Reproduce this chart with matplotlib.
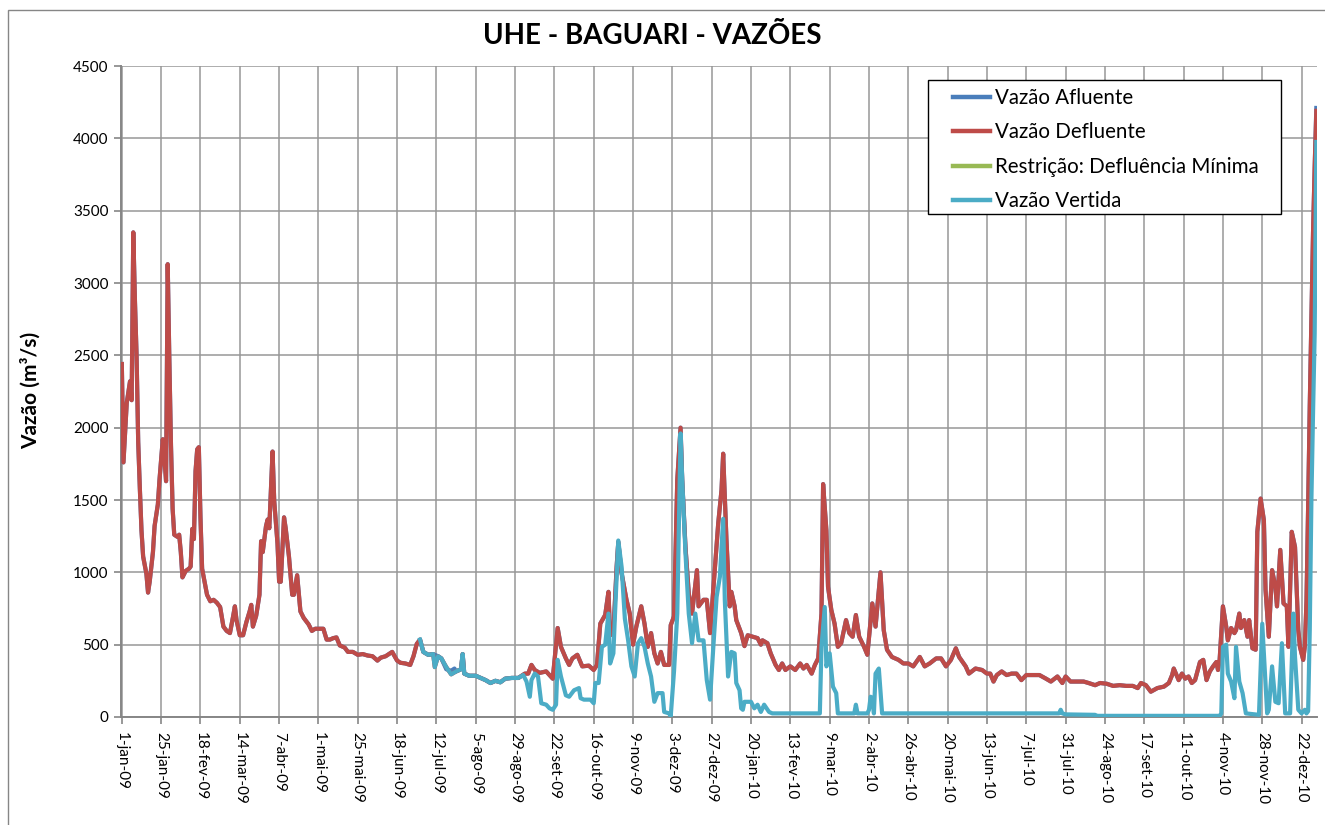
import numpy as np
import pandas as pd
import matplotlib
matplotlib.use("Agg")
import matplotlib.pyplot as plt
from matplotlib.patches import Rectangle

plt.rcParams['font.family'] = ['Lato', 'DejaVu Sans']

# ---------------- data (day offsets from 1-jan-2009) ----------------
start_date = np.datetime64('2009-01-01')

defl_days = [0, 1, 3, 5, 6, 7, 8, 9, 10, 11, 12, 13, 15, 16, 17, 19, 20, 22, 23, 25, 26, 27, 28, 29, 30, 31, 32, 34, 35, 36,
             37, 39, 41, 42, 43, 44, 45, 46, 47, 48, 49, 51, 52, 54, 56, 58, 60, 62, 64, 66, 68, 69, 70, 72, 74, 76, 78, 79, 80, 82,
             84, 85, 86, 88, 89, 90, 92, 93, 95, 96, 97, 99, 100, 102, 104, 105, 107, 109, 111, 114, 116, 118, 120, 123, 125, 127, 129, 131, 133, 136,
             138, 141, 144, 147, 150, 153, 156, 158, 161, 163, 165, 168, 170, 173, 176, 178, 180, 182, 184, 187, 190, 191, 193, 195, 198, 201,
             204, 207, 208, 209, 212, 216, 219, 222, 225, 228, 231, 234, 238, 242, 246, 248, 250, 252, 255, 259, 261, 263, 266, 268,
             271, 273, 275, 278, 281, 285, 288, 290, 292, 295, 297, 298, 300, 302, 303, 305, 308, 310, 312, 314, 317, 319, 321, 323,
             325, 327, 329, 331, 334, 335, 337, 339, 341, 342, 344, 346, 348, 351, 352, 355, 357, 359, 362, 364, 366, 367, 369, 371,
             372, 374, 375, 378, 380, 382, 385, 388, 390, 391, 394, 396, 399, 401, 403, 405, 408, 411, 414, 416, 418, 421, 423, 425,
             427, 428, 430, 431, 433, 435, 437, 439, 442, 444, 446, 448, 450, 453, 455, 458, 460, 463, 465, 467, 470, 474, 477, 480,
             483, 487, 490, 493, 497, 500, 503, 506, 509, 511, 515, 517, 521, 525, 528, 530, 532, 534, 537, 540, 543, 546, 549, 552,
             556, 560, 564, 567, 571, 574, 576, 579, 583, 587, 590, 594, 597, 601, 605, 609, 613, 617, 620, 622, 625, 628, 632, 636,
             639, 641, 642, 645, 647, 649, 651, 653, 655, 658, 660, 662, 664, 666, 668, 669, 670, 672, 674, 675, 677, 679, 680, 682,
             683, 685, 687, 688, 690, 692, 693, 695, 697, 698, 700, 702, 704, 705, 707, 709, 711, 712, 714, 716, 718, 719, 721, 722,
             723, 724, 725, 726, 727, 728, 729]
defl_vals = [2440, 1760, 2170, 2320, 2190, 3350, 2880, 2500, 1900, 1580, 1290, 1110, 990, 860, 935, 1140, 1320, 1470, 1640, 1920, 1790, 1630, 3130, 2470, 1880, 1440, 1260, 1245, 1260, 1140,
             965, 1010, 1025, 1040, 1300, 1230, 1700, 1850, 1865, 1380, 1025, 905, 845, 800, 810, 790, 760, 625, 595, 580, 700, 765, 670, 565, 565, 655, 730, 775, 625, 700,
             845, 1215, 1140, 1320, 1365, 1305, 1835, 1495, 1200, 935, 935, 1380, 1305, 1110, 845, 845, 980, 730, 685, 640, 595, 610, 610, 610, 535, 535, 545, 550, 495, 480,
             450, 450, 430, 435, 425, 420, 390, 410, 420, 435, 450, 390, 375, 370, 360, 420, 505, 535, 450, 430, 435, 345, 420, 405, 345, 295,
             315, 330, 435, 300, 285, 285, 270, 255, 235, 250, 240, 265, 270, 270, 300, 300, 360, 325, 305, 315, 290, 265, 615, 485,
             405, 360, 405, 430, 350, 355, 325, 360, 645, 705, 865, 565, 580, 1040, 1210, 995, 810, 715, 500, 625, 765, 645, 485, 580,
             440, 370, 450, 360, 360, 635, 695, 1640, 2000, 1640, 1175, 855, 715, 1015, 765, 810, 810, 580, 1040, 1340, 1570, 1820, 1225, 765,
             865, 765, 670, 580, 490, 565, 555, 545, 500, 530, 510, 440, 360, 325, 370, 325, 350, 325, 370, 335, 360, 300, 360, 405,
             715, 1610, 1290, 900, 740, 645, 485, 510, 670, 580, 555, 705, 555, 485, 430, 785, 625, 1000, 600, 465, 415, 395, 370, 370,
             350, 415, 350, 370, 405, 405, 350, 395, 475, 415, 350, 300, 335, 325, 300, 300, 245, 290, 315, 290, 300, 300, 255, 290,
             290, 290, 265, 245, 280, 235, 280, 245, 245, 245, 235, 220, 235, 230, 215, 220, 215, 215, 200, 235, 220, 175, 200, 210,
             235, 290, 335, 255, 300, 265, 280, 235, 255, 380, 395, 255, 315, 350, 380, 325, 395, 765, 625, 530, 615, 580, 600, 715,
             615, 670, 555, 670, 475, 465, 1280, 1510, 1360, 880, 555, 1015, 900, 765, 1155, 785, 765, 485, 1280, 1175, 600, 485, 395, 490,
             800, 1450, 2150, 2750, 3350, 3800, 4190]

# Afluente coincides with Defluente except on these days
afl_diff_days = [191, 198, 201, 203, 729]
afl_diff_vals = [430, 330, 320, 335, 4210]

vert_days = [182, 184, 187, 190, 191, 193, 195, 198, 201, 204, 207, 208, 209, 212, 216, 219, 222, 225, 228, 231, 234, 238, 242, 245,
             247, 249, 250, 252, 254, 256, 259, 261, 263, 265, 266, 268, 271, 273, 276, 279, 280, 282, 286, 288, 289, 291, 293, 295,
             297, 298, 300, 301, 303, 305, 307, 309, 311, 313, 315, 317, 319, 321, 323, 325, 327, 330, 331, 334, 335, 337, 339, 341,
             342, 344, 346, 348, 350, 352, 355, 357, 359, 361, 363, 365, 367, 368, 370, 372, 374, 375, 377, 378, 379, 380, 382, 384,
             386, 388, 390, 392, 395, 397, 426, 427, 429, 430, 432, 434, 436, 437, 447, 448, 449, 455, 456, 457, 458, 459, 460, 462,
             464, 572, 573, 574, 576, 594, 595, 670, 671, 672, 674, 675, 677, 679, 680, 682, 684, 686, 694, 696, 697, 699, 700, 702,
             704, 706, 708, 710, 713, 715, 716, 718, 720, 722, 723, 724, 725, 726, 727, 728, 729]
vert_vals = [535, 450, 430, 435, 345, 420, 405, 345, 295, 315, 330, 435, 300, 285, 285, 270, 255, 235, 250, 240, 265, 270, 270, 290,
             245, 140, 255, 300, 280, 95, 85, 60, 50, 85, 395, 280, 150, 140, 185, 200, 130, 120, 120, 95, 235, 235, 485, 500,
             715, 370, 440, 715, 1220, 1040, 680, 530, 350, 280, 510, 545, 485, 370, 280, 105, 165, 165, 35, 25, 5, 315, 715, 1960,
             1640, 1130, 715, 510, 715, 530, 530, 255, 120, 485, 830, 970, 1370, 810, 280, 450, 440, 235, 185, 60, 50, 105, 105, 105,
             60, 85, 35, 85, 35, 25, 25, 485, 760, 350, 440, 210, 165, 25, 25, 85, 25, 25, 50, 140, 130, 25, 300, 335,
             25, 25, 50, 25, 18, 15, 8, 8, 25, 485, 500, 300, 245, 130, 485, 245, 165, 25, 15, 645, 440, 25, 50, 350,
             105, 95, 510, 25, 25, 715, 415, 50, 25, 50, 25, 40, 600, 1500, 2100, 2650, 3975]

restr_days = []
restr_vals = []

series_names = ['Vazão Afluente', 'Vazão Defluente', 'Restrição: Defluência Mínima', 'Vazão Vertida']
series_colors = ['#4A7EBB', '#BE4B48', '#98B954', '#4BACC6']

tick_labels = ['1-jan-09', '25-jan-09', '18-fev-09', '14-mar-09', '7-abr-09', '1-mai-09', '25-mai-09', '18-jun-09',
               '12-jul-09', '5-ago-09', '29-ago-09', '22-set-09', '16-out-09', '9-nov-09', '3-dez-09', '27-dez-09',
               '20-jan-10', '13-fev-10', '9-mar-10', '2-abr-10', '26-abr-10', '20-mai-10', '13-jun-10', '7-jul-10',
               '31-jul-10', '24-ago-10', '17-set-10', '11-out-10', '4-nov-10', '28-nov-10', '22-dez-10']
y_ticks = list(range(0, 4501, 500))

title = 'UHE - BAGUARI - VAZÕES'
ylabel = 'Vazão (m³/s)'

# ---------------- build series ----------------
def to_dates(days):
    return start_date + np.array(days, dtype='timedelta64[D]')

defl = pd.Series(defl_vals, index=defl_days, dtype=float)
afl = defl.copy()
for d, v in zip(afl_diff_days, afl_diff_vals):
    afl.loc[d] = v
afl = afl.sort_index()

months = {'jan': 1, 'fev': 2, 'mar': 3, 'abr': 4, 'mai': 5, 'jun': 6,
          'jul': 7, 'ago': 8, 'set': 9, 'out': 10, 'nov': 11, 'dez': 12}
def parse(lbl):
    d, m, y = lbl.split('-')
    return np.datetime64('20%s-%02d-%02d' % (y, months[m], int(d)))
tick_pos = [parse(l) for l in tick_labels]

# ---------------- figure ----------------
W, H = 1325, 825
fig = plt.figure(figsize=(W / 100, H / 100), dpi=100)
fig.patches.append(Rectangle((8 / W, -0.1), 1.2, (1 - 10 / H) + 0.1, transform=fig.transFigure,
                             fill=False, edgecolor='#868686', lw=1.0, clip_on=False))

ax = fig.add_axes([121 / W, 1 - 717 / H, (1317 - 121) / W, (717 - 66) / H])

lw = 3.0
ax.plot(to_dates(afl.index.values), afl.values, color=series_colors[0], lw=lw, label=series_names[0],
        solid_joinstyle='round', zorder=3)
ax.plot(to_dates(defl.index.values), defl.values, color=series_colors[1], lw=lw, label=series_names[1],
        solid_joinstyle='round', zorder=4)
ax.plot(to_dates(restr_days), restr_vals, color=series_colors[2], lw=lw, label=series_names[2], zorder=5)
ax.plot(to_dates(vert_days), vert_vals, color=series_colors[3], lw=lw, label=series_names[3],
        solid_joinstyle='round', zorder=6)

ax.set_ylim(0, 4500)
ax.set_xlim(start_date - np.timedelta64(12, 'h'), parse('31-dez-10') + np.timedelta64(10, 'h'))
ax.set_yticks(y_ticks)
ax.set_yticklabels([str(v) for v in y_ticks])
ax.set_xticks(tick_pos)
ax.set_xticklabels(tick_labels, rotation=-90, ha='center', va='top')

grid_c = '#979797'
ax.grid(True, color=grid_c, lw=1.1)
ax.set_axisbelow(True)
for s in ['top', 'right']:
    ax.spines[s].set_visible(False)
for s in ['left', 'bottom']:
    ax.spines[s].set_color('#868686')
    ax.spines[s].set_linewidth(1.4)
ax.tick_params(axis='both', direction='out', length=5, width=1.2, color='#868686',
               labelsize=11, labelcolor='black')
ax.tick_params(axis='x', pad=6)
ax.tick_params(axis='y', pad=4)

fig.text(652 / W, 1 - 36 / H, title, ha='center', va='center', fontsize=20, fontweight='bold')
fig.text(31 / W, 1 - 390 / H, ylabel, ha='center', va='center', rotation=90, fontsize=15, fontweight='bold')

# legend: frame drawn separately so the padding matches the reference
fig.patches.append(Rectangle((928 / W, 1 - 214 / H), (1281 - 928) / W, (214 - 80) / H,
                             transform=fig.transFigure, facecolor='white', edgecolor='black',
                             lw=1.0, zorder=10))
leg = fig.legend(loc='upper left', bbox_to_anchor=(953 / W, 1 - 88 / H), bbox_transform=fig.transFigure,
                 fontsize=14.8, frameon=False, handlelength=1.8, handletextpad=0.25,
                 labelspacing=0.70, borderpad=0, borderaxespad=0)
leg.set_zorder(11)
for line in leg.get_lines():
    line.set_linewidth(3.2)

fig.savefig('out.png', dpi=100)
